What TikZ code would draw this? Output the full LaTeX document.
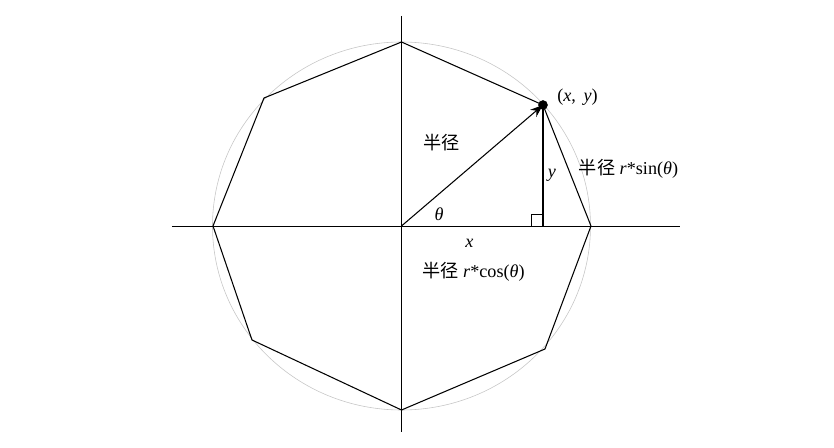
\documentclass[tikz,border=0pt]{standalone}
\usepackage{fontspec}
\setmainfont{Liberation Serif}
\newfontfamily\cjk{Noto Sans CJK SC}
\usepackage{tikz}
\usetikzlibrary{arrows.meta}
\newcommand{\rr}{\textit{r}}
\newcommand{\tht}{\textit{θ}}

\begin{document}
\begin{tikzpicture}[x=0.03cm,y=0.03cm,font=\fontsize{15.5}{18}\selectfont]
        \useasboundingbox (-401.5,-222) rectangle (432.5,226);
        \draw[gray!45,line width=0.5pt] (0,0) ellipse (189 and 184);
        \draw[-,line width=0.7pt] (-229.5,0) -- (278,0);
        \draw[-,line width=0.7pt] (0,210) -- (0,-206);
        \coordinate (v0) at (189.5,0);
        \coordinate (p) at (141.5,121);
        \coordinate (v2) at (0,184);
        \coordinate (v3) at (-137.5,128);
        \coordinate (v4) at (-188.5,0);
        \coordinate (v5) at (-149.5,-114);
        \coordinate (v6) at (0,-184);
        \coordinate (v7) at (143.5,-123);
        \coordinate (o) at (0,0);
        \coordinate (q) at (141.5,0);
        \draw[line width=0.9pt,line join=round] (v0) -- (p) -- (v2) -- (v3) -- (v4) -- (v5) -- (v6) -- (v7) -- cycle;
        \draw[-{Stealth[length=11pt,width=8pt]},line width=0.9pt] (o) -- (p);
        \draw[line width=0.9pt] (p) -- (q);
        \draw[fill=black] (p) circle (4.5);
        \draw[line width=0.6pt] (129.5,0) -- (129.5,12) -- (q |- 0,12);
        %\node at (0,0) {};
        \node (pt) at (176,129) {(\textit{x}, \,\textit{y})};
        \node (rad) at (40,83) {\cjk 半径};
        \node (th) at (37.5,12) {\tht};
        \node (ylab) at (150.5,51) {\textit{y}};
        \node (sinlab) at (227,57) {{\cjk 半径} \rr*sin(\tht)};
        \node (xlab) at (68,-17) {\textit{x}};
        \node (coslab) at (72,-46) {{\cjk 半径} \rr*cos(\tht)};
      \end{tikzpicture}
\end{document}
